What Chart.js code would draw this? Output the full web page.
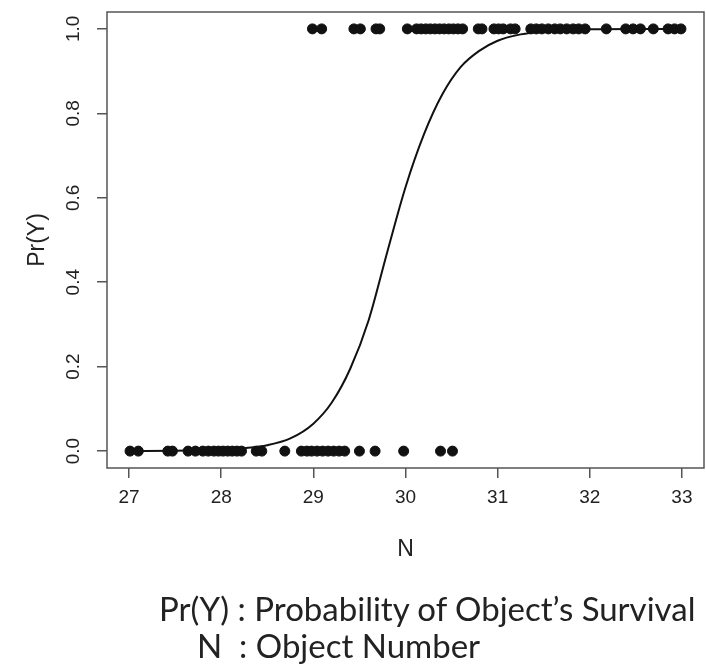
<!DOCTYPE html>
<html>
<head>
<meta charset="utf-8">
<script src="https://cdn.jsdelivr.net/npm/chart.js@4/dist/chart.umd.min.js"></script>
<style>
  html, body { margin: 0; padding: 0; background: #fff; }
  #wrap { position: relative; width: 706px; height: 665px; }
  .caption { position: absolute; font-family: Lato, "Open Sans", sans-serif; font-size: 33px; line-height: 33px; color: #222; white-space: pre; }
</style>
</head>
<body>
<div id="wrap">
  <canvas id="myChart" width="706" height="665"></canvas>
  <div class="caption" style="left:159px; top:592px;">Pr(Y) : Probability of Object’s Survival</div>
  <div class="caption" style="left:197px; top:629px;">N  : Object Number</div>
</div>
<script>
'use strict';

// objects that survived (Pr = 1) and did not (Pr = 0), by object number N
var survivedN = [28.99, 29.09, 29.44, 29.51, 29.68, 29.72, 30.02, 30.12, 30.17, 30.22, 30.27, 30.32,
  30.37, 30.42, 30.47, 30.52, 30.57, 30.62, 30.79, 30.83, 30.96, 31.01, 31.06, 31.14, 31.19,
  31.36, 31.42, 31.48, 31.55, 31.62, 31.68, 31.75, 31.82, 31.88, 31.95, 32.18, 32.39, 32.47,
  32.55, 32.69, 32.85, 32.92, 32.99];
var diedN = [27.01, 27.1, 27.42, 27.47, 27.64, 27.72, 27.8, 27.86, 27.92, 27.97, 28.02, 28.07,
  28.12, 28.17, 28.22, 28.38, 28.44, 28.69, 28.87, 28.93, 28.98, 29.04, 29.1, 29.16, 29.22,
  29.28, 29.34, 29.5, 29.67, 29.98, 30.38, 30.51];

// fitted curve
var curveN = [27, 27.5, 28, 28.25, 28.5, 28.75, 29, 29.2, 29.4, 29.6, 29.8, 30, 30.2, 30.4,
  30.6, 30.8, 31, 31.25, 31.5, 32, 32.5, 33];
var curvePr = [0.000, 0.001, 0.003, 0.007, 0.014, 0.030, 0.065, 0.115, 0.195, 0.31, 0.47, 0.625,
  0.75, 0.845, 0.91, 0.948, 0.972, 0.987, 0.994, 0.999, 1.0, 1.0];

// tick labels
var xTicks = [27, 28, 29, 30, 31, 32, 33];
var yTicks = [0, 0.2, 0.4, 0.6, 0.8, 1.0];

(function () {
  var axisFont = { family: '"Liberation Sans", Arial, sans-serif', size: 19 };
  var titleFont = { family: '"Liberation Sans", Arial, sans-serif', size: 23 };

  // R style box around the plot region
  var boxPlugin = {
    id: 'box',
    beforeDatasetsDraw: function (chart) {
      var a = chart.chartArea, ctx = chart.ctx;
      ctx.save();
      ctx.strokeStyle = '#555';
      ctx.lineWidth = 1.5;
      ctx.strokeRect(a.left, a.top, a.right - a.left, a.bottom - a.top);
      ctx.restore();
    }
  };

  var points = survivedN.map(function (n) { return { x: n, y: 1 }; })
    .concat(diedN.map(function (n) { return { x: n, y: 0 }; }));
  var curve = curveN.map(function (n, i) { return { x: n, y: curvePr[i] }; });

  new Chart(document.getElementById('myChart'), {
    type: 'scatter',
    data: {
      datasets: [{
        data: curve,
        showLine: true,
        borderColor: '#111',
        borderWidth: 2,
        pointRadius: 0,
        cubicInterpolationMode: 'monotone'
      }, {
        data: points,
        backgroundColor: '#111',
        borderColor: '#111',
        pointRadius: 5
      }]
    },
    options: {
      responsive: false,
      animation: false,
      layout: { autoPadding: false, padding: { left: 0, right: 2, top: 12, bottom: 97 } },
      plugins: { legend: { display: false }, tooltip: { enabled: false } },
      scales: {
        x: {
          min: 26.76, max: 33.24,
          afterBuildTicks: function (s) { s.ticks = xTicks.map(function (v) { return { value: v }; }); },
          afterFit: function (s) { s.height = 100; s.paddingLeft = 0; s.paddingRight = 0; },
          grid: { drawOnChartArea: false, tickLength: 10, color: '#555', lineWidth: 1.5 },
          border: { display: false },
          ticks: { font: axisFont, color: '#222', padding: 8, maxRotation: 0 },
          title: { display: true, text: 'N', font: titleFont, color: '#222', padding: { top: 0, bottom: 5 } }
        },
        y: {
          min: -0.04, max: 1.04,
          afterBuildTicks: function (s) { s.ticks = yTicks.map(function (v) { return { value: v }; }); },
          afterFit: function (s) { s.width = 107; s.paddingTop = 0; s.paddingBottom = 0; },
          grid: { drawOnChartArea: false, tickLength: 10, color: '#555', lineWidth: 1.5 },
          border: { display: false },
          ticks: {
            font: axisFont, color: '#222', padding: 10,
            minRotation: 90, maxRotation: 90, crossAlign: 'center',
            callback: function (v) { return v.toFixed(1); }
          },
          title: { display: true, text: 'Pr(Y)', font: titleFont, color: '#222', padding: { top: 24, bottom: 0 } }
        }
      }
    },
    plugins: [boxPlugin]
  });
})();
</script>
</body>
</html>
